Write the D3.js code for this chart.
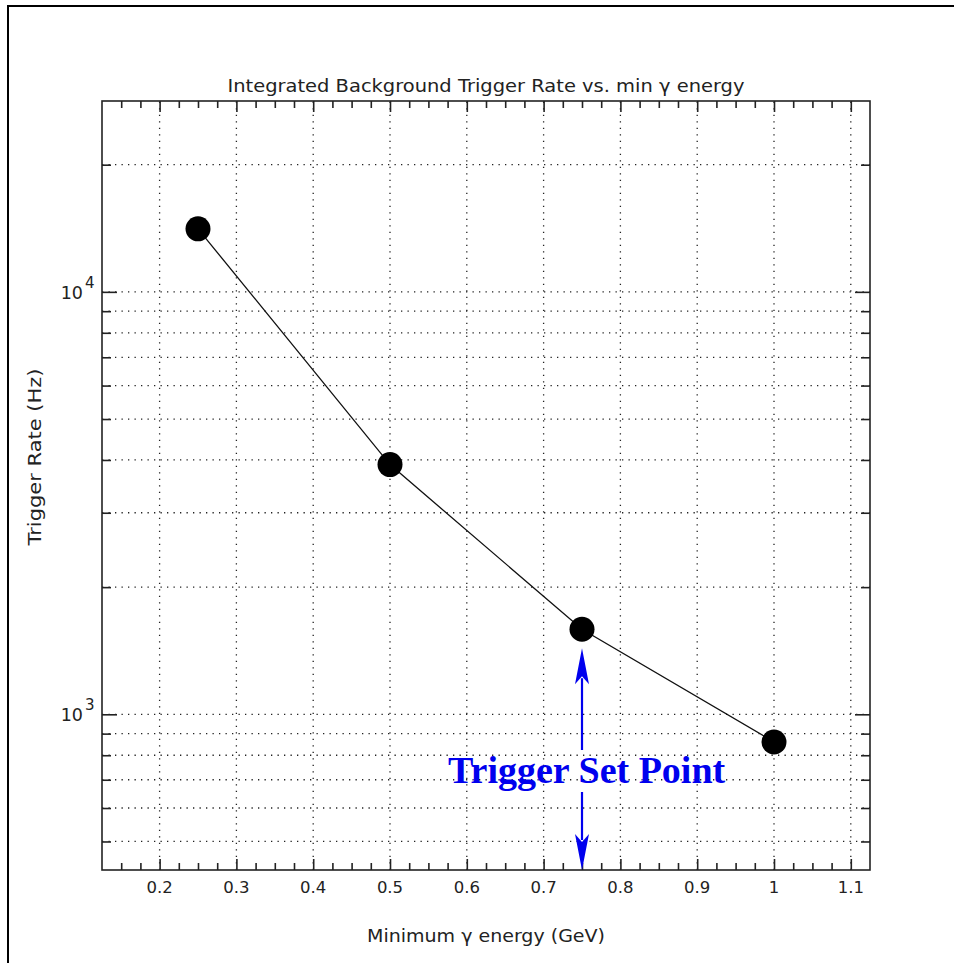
<!DOCTYPE html>
<html>
<head>
<meta charset="utf-8">
<script src="https://cdn.jsdelivr.net/npm/d3@7"></script>
<style>
  html, body { margin: 0; padding: 0; background: #fff; }
  svg { display: block; }
  text { font-family: "DejaVu Sans", sans-serif; fill: #222; }
  text.annotation { font-family: "Liberation Serif", "Times New Roman", serif; font-weight: bold; }
</style>
</head>
<body>
<svg id="chart" width="954" height="963"></svg>
<script>
// Minimum photon energy (GeV) and integrated background trigger rate (Hz)
const energies = [0.25, 0.5, 0.75, 1.0];
const rates = [14100, 3900, 1590, 860];

const xTickValues = [0.2, 0.3, 0.4, 0.5, 0.6, 0.7, 0.8, 0.9, 1.0, 1.1];
const xTickLabels = ["0.2", "0.3", "0.4", "0.5", "0.6", "0.7", "0.8", "0.9", "1", "1.1"];
const yDecades = [1000, 10000];
const yDecadeExponents = ["3", "4"];
const setPointEnergy = 0.75;

const titleText = "Integrated Background Trigger Rate vs. min \u03b3 energy";
const xLabelText = "Minimum \u03b3 energy (GeV)";
const yLabelText = "Trigger Rate (Hz)";
const annotationText = "Trigger Set Point";

const svg = d3.select("#chart");
const plot = { left: 102, top: 101, right: 870, bottom: 870 };

const x = d3.scaleLinear().domain([0.125, 1.125]).range([plot.left, plot.right]);
const y = d3.scaleLog().domain([428, 28300]).range([plot.bottom, plot.top]);

// Page frame: left and top rules
svg.append("line").attr("x1", 8).attr("x2", 8).attr("y1", 6).attr("y2", 963)
  .attr("stroke", "#000").attr("stroke-width", 2);
svg.append("line").attr("x1", 7).attr("x2", 954).attr("y1", 6).attr("y2", 6)
  .attr("stroke", "#000").attr("stroke-width", 2);

// Minor tick positions
const xMinor = d3.range(0.15, 1.125, 0.025).map(v => +v.toFixed(3))
  .filter(v => !xTickValues.some(t => Math.abs(t - v) < 1e-6));
const yAll = [];
[100, 1000, 10000].forEach(dec => {
  for (let k = 1; k <= 9; k++) {
    const v = dec * k;
    if (v >= y.domain()[0] && v <= y.domain()[1]) yAll.push(v);
  }
});
const yMinor = yAll.filter(v => !yDecades.includes(v));

// Dotted grid
const grid = svg.append("g").attr("stroke", "#222").attr("stroke-width", 1.3)
  .attr("stroke-dasharray", "1.3 5.2").attr("fill", "none");
grid.selectAll("line.gx").data(xTickValues).join("line").attr("class", "gx")
  .attr("x1", d => x(d)).attr("x2", d => x(d))
  .attr("y1", plot.bottom).attr("y2", plot.top);
grid.selectAll("line.gy").data(yAll).join("line").attr("class", "gy")
  .attr("x1", plot.left).attr("x2", plot.right)
  .attr("y1", d => y(d)).attr("y2", d => y(d));

// Axes built from d3 axis generators; ticks point inward
function styleAxis(g) {
  g.select(".domain").remove();
  g.selectAll(".tick line").attr("stroke", "#222").attr("stroke-width", 1.6);
  g.selectAll(".tick text").remove();
}
const axes = svg.append("g");
axes.append("g").attr("transform", `translate(0,${plot.bottom})`)
  .call(d3.axisTop(x).tickValues(xTickValues).tickSize(11)).call(styleAxis);
axes.append("g").attr("transform", `translate(0,${plot.bottom})`)
  .call(d3.axisTop(x).tickValues(xMinor).tickSize(7)).call(styleAxis);
axes.append("g").attr("transform", `translate(0,${plot.top})`)
  .call(d3.axisBottom(x).tickValues(xTickValues).tickSize(11)).call(styleAxis);
axes.append("g").attr("transform", `translate(0,${plot.top})`)
  .call(d3.axisBottom(x).tickValues(xMinor).tickSize(7)).call(styleAxis);
axes.append("g").attr("transform", `translate(${plot.left},0)`)
  .call(d3.axisRight(y).tickValues(yDecades).tickSize(15)).call(styleAxis);
axes.append("g").attr("transform", `translate(${plot.left},0)`)
  .call(d3.axisRight(y).tickValues(yMinor).tickSize(9)).call(styleAxis);
axes.append("g").attr("transform", `translate(${plot.right},0)`)
  .call(d3.axisLeft(y).tickValues(yDecades).tickSize(15)).call(styleAxis);
axes.append("g").attr("transform", `translate(${plot.right},0)`)
  .call(d3.axisLeft(y).tickValues(yMinor).tickSize(9)).call(styleAxis);

// Plot frame
svg.append("rect").attr("x", plot.left).attr("y", plot.top)
  .attr("width", plot.right - plot.left).attr("height", plot.bottom - plot.top)
  .attr("fill", "none").attr("stroke", "#222").attr("stroke-width", 1.6);

// X tick labels
svg.append("g").selectAll("text").data(xTickValues).join("text")
  .attr("x", d => x(d)).attr("y", 893)
  .attr("text-anchor", "middle").attr("font-size", 16.5)
  .text((d, i) => xTickLabels[i]);

// Y decade labels as 10 with superscript exponent
const yl = svg.append("g").selectAll("g").data(yDecades).join("g")
  .attr("transform", d => `translate(0,${y(d)})`);
yl.append("text").attr("x", 83).attr("y", 7).attr("text-anchor", "end")
  .attr("font-size", 17.5).text("10");
yl.append("text").attr("x", 85).attr("y", -4).attr("font-size", 15)
  .text((d, i) => yDecadeExponents[i]);

// Titles
svg.append("text").attr("x", (plot.left + plot.right) / 2).attr("y", 92)
  .attr("text-anchor", "middle").attr("font-size", 17)
  .attr("textLength", 517).attr("lengthAdjust", "spacingAndGlyphs")
  .text(titleText);
svg.append("text").attr("x", (plot.left + plot.right) / 2).attr("y", 942)
  .attr("text-anchor", "middle").attr("font-size", 17)
  .attr("textLength", 238).attr("lengthAdjust", "spacingAndGlyphs")
  .text(xLabelText);
svg.append("text").attr("transform", "translate(41,457) rotate(-90)")
  .attr("text-anchor", "middle").attr("font-size", 17)
  .attr("textLength", 177).attr("lengthAdjust", "spacingAndGlyphs")
  .text(yLabelText);

// Data line and markers
const pts = energies.map((e, i) => [e, rates[i]]);
svg.append("path").datum(pts)
  .attr("d", d3.line().x(d => x(d[0])).y(d => y(d[1])))
  .attr("fill", "none").attr("stroke", "#111").attr("stroke-width", 1.3);
svg.append("g").selectAll("circle").data(pts).join("circle")
  .attr("cx", d => x(d[0])).attr("cy", d => y(d[1])).attr("r", 12.5)
  .attr("fill", "#000");

// Set-point annotation: double arrow from the marker to the axis
const blue = "#0000ee";
const sx = x(setPointEnergy);
const sy = y(rates[energies.indexOf(setPointEnergy)]);
const ann = svg.append("g");
function arrowHead(tipY, dir) {
  const len = 36, half = 7;
  ann.append("path")
    .attr("d", `M${sx},${tipY} L${sx - half},${tipY + dir * len} L${sx},${tipY + dir * (len - 8)} L${sx + half},${tipY + dir * len} Z`)
    .attr("fill", blue);
}
const topTip = sy + 19;
arrowHead(topTip, 1);
ann.append("line").attr("x1", sx).attr("x2", sx).attr("y1", topTip + 30).attr("y2", 750)
  .attr("stroke", blue).attr("stroke-width", 2.2);
ann.append("line").attr("x1", sx).attr("x2", sx).attr("y1", 792).attr("y2", plot.bottom - 30)
  .attr("stroke", blue).attr("stroke-width", 2.2);
arrowHead(plot.bottom, -1);
ann.append("text").attr("class", "annotation").attr("x", 448).attr("y", 783)
  .attr("font-size", 38).style("fill", blue).text(annotationText);
</script>
</body>
</html>
